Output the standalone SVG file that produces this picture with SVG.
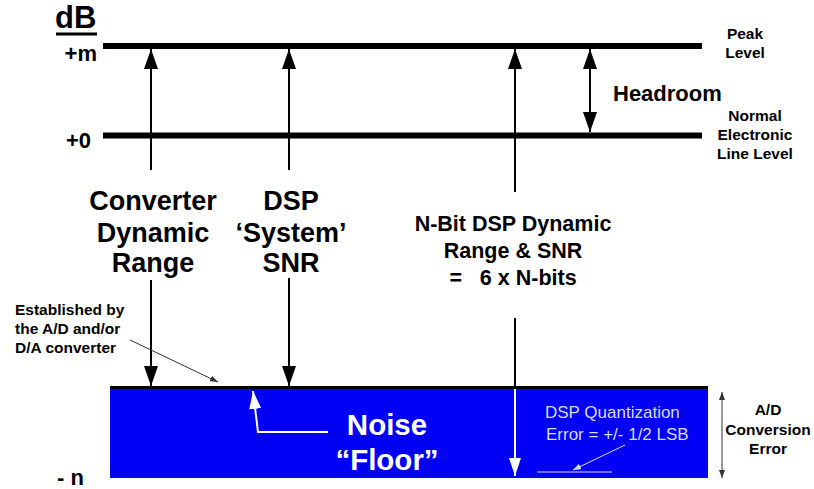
<svg xmlns="http://www.w3.org/2000/svg" width="814" height="489" viewBox="0 0 814 489">
<style>
text{font-family:"Liberation Sans",Arial,sans-serif;font-weight:bold;fill:#000;white-space:pre;}
.big{font-size:27px;}
.mid{font-size:21.5px;}
.sm{font-size:15.5px;}
.ax{font-size:22px;}
.wt{fill:#fff;font-size:29.5px;}
.lt{fill:#d8dcff;font-weight:normal;font-size:17px;}
.ln{stroke:#000;stroke-width:2;fill:none;}
.lvl{stroke:#000;stroke-width:6;}
</style>
<defs>
<marker id="ah" viewBox="0 0 20 14" refX="20" refY="7" markerWidth="20" markerHeight="14" markerUnits="userSpaceOnUse" orient="auto-start-reverse"><path d="M0,0 L20,7 L0,14 Z" fill="#000"/></marker>
<marker id="ahw" viewBox="0 0 18 12" refX="18" refY="6" markerWidth="18" markerHeight="12" markerUnits="userSpaceOnUse" orient="auto"><path d="M0,0 L18,6 L0,12 Z" fill="#fff"/></marker>
<marker id="ahs" viewBox="0 0 8 6" refX="8" refY="3" markerWidth="8" markerHeight="6" markerUnits="userSpaceOnUse" orient="auto-start-reverse"><path d="M0,0 L8,3 L0,6 Z" fill="#333"/></marker>
<marker id="ahl" viewBox="0 0 8 6" refX="8" refY="3" markerWidth="8" markerHeight="6" markerUnits="userSpaceOnUse" orient="auto"><path d="M0,0 L8,3 L0,6 Z" fill="#d8dcff"/></marker>
</defs>

<g id="axis">
<text x="55" y="28" style="font-size:31px">dB</text>
<line x1="56" y1="34" x2="97" y2="34" stroke="#000" stroke-width="3"/>
<text x="97" y="61" class="ax" text-anchor="end">+m</text>
<text x="91" y="148" class="ax" text-anchor="end">+0</text>
<text x="57" y="485" class="ax">- n</text>
</g>

<g id="levels">
<line x1="103" y1="46" x2="702" y2="46" class="lvl"/>
<line x1="103" y1="135.5" x2="702" y2="135.5" class="lvl"/>
</g>

<g id="noise-floor">
<rect x="110" y="386" width="598" height="92" fill="#0000f5"/>
<line x1="110" y1="387.5" x2="708" y2="387.5" stroke="#000" stroke-width="3"/>
<text x="387" y="435" class="wt" text-anchor="middle">Noise</text>
<text x="387" y="470" class="wt" text-anchor="middle">“Floor”</text>
</g>

<g id="labels">
<text x="745" y="39" class="sm" text-anchor="middle">Peak</text>
<text x="745" y="58" class="sm" text-anchor="middle">Level</text>
<text x="755" y="121" class="sm" text-anchor="middle">Normal</text>
<text x="755" y="140" class="sm" text-anchor="middle">Electronic</text>
<text x="755" y="159" class="sm" text-anchor="middle">Line Level</text>
<text x="613" y="101" style="font-size:22px">Headroom</text>
<text x="153" y="210" class="big" text-anchor="middle">Converter</text>
<text x="153" y="242" class="big" text-anchor="middle">Dynamic</text>
<text x="153" y="272" class="big" text-anchor="middle">Range</text>
<text x="291" y="210" class="big" text-anchor="middle">DSP</text>
<text x="291" y="242" class="big" text-anchor="middle">‘System’</text>
<text x="291" y="272" class="big" text-anchor="middle">SNR</text>
<text x="513" y="231" class="mid" text-anchor="middle">N-Bit DSP Dynamic</text>
<text x="513" y="258" class="mid" text-anchor="middle">Range &amp; SNR</text>
<text x="513" y="285" class="mid" text-anchor="middle" xml:space="preserve">=   6 x N-bits</text>
<text x="15" y="315" class="sm">Established by</text>
<text x="15" y="334" class="sm">the A/D and/or</text>
<text x="15" y="353" class="sm">D/A converter</text>
<text x="545" y="418" class="lt">DSP Quantization</text>
<text x="546" y="440" class="lt">Error = +/- 1/2 LSB</text>
<text x="768" y="415" class="sm" text-anchor="middle">A/D</text>
<text x="768" y="435" class="sm" text-anchor="middle">Conversion</text>
<text x="768" y="454" class="sm" text-anchor="middle">Error</text>
</g>

<g id="connectors">
<line x1="151" y1="170" x2="151" y2="49" class="ln" marker-end="url(#ah)"/>
<line x1="289" y1="170" x2="289" y2="49" class="ln" marker-end="url(#ah)"/>
<line x1="515" y1="192" x2="515" y2="49" class="ln" marker-end="url(#ah)"/>
<line x1="590" y1="49" x2="590" y2="132" class="ln" marker-start="url(#ah)" marker-end="url(#ah)"/>
<line x1="151" y1="280" x2="151" y2="386" class="ln" marker-end="url(#ah)"/>
<line x1="289" y1="278" x2="289" y2="386" class="ln" marker-end="url(#ah)"/>
<line x1="515" y1="318" x2="515" y2="387" class="ln"/>
<line x1="515" y1="389" x2="515" y2="476" stroke="#fff" stroke-width="2" marker-end="url(#ahw)"/>
<polyline points="328,432 258,432 253,391" fill="none" stroke="#fff" stroke-width="2" marker-end="url(#ahw)"/>
<line x1="130" y1="340" x2="218" y2="382" stroke="#333" stroke-width="1" marker-end="url(#ahs)"/>
<line x1="537" y1="472" x2="612" y2="472" stroke="#d8dcff" stroke-width="1"/>
<line x1="625" y1="445" x2="573" y2="470" stroke="#d8dcff" stroke-width="1" marker-end="url(#ahl)"/>
<line x1="722" y1="392" x2="722" y2="478" stroke="#333" stroke-width="1" marker-start="url(#ahs)" marker-end="url(#ahs)"/>
</g>
</svg>
